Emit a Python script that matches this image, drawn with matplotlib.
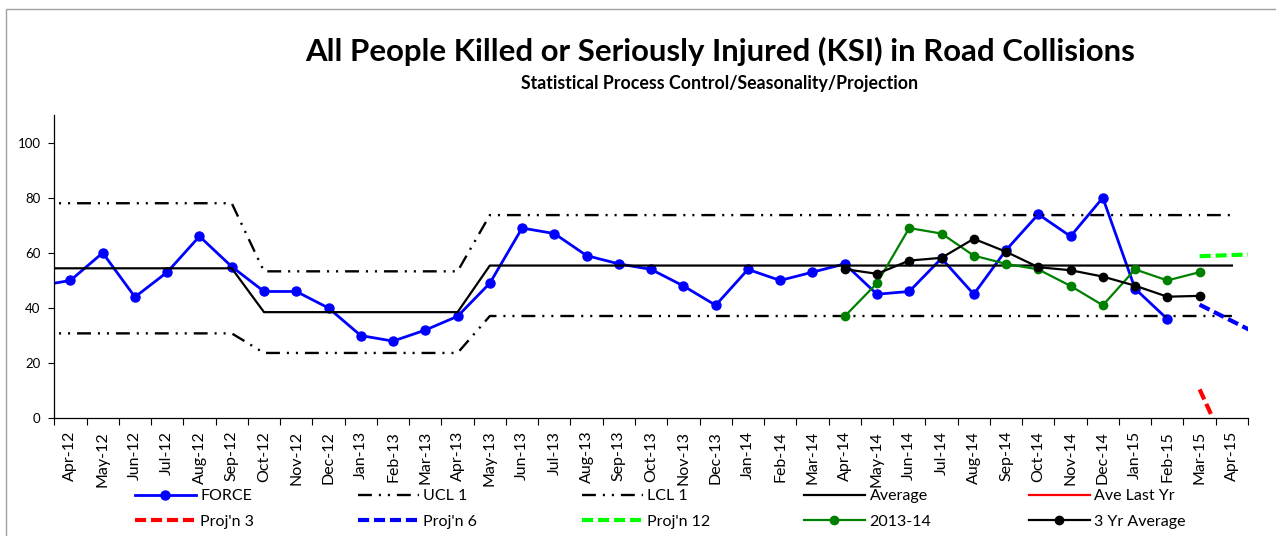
import numpy as np
import matplotlib.pyplot as plt
from matplotlib.patches import Rectangle

plt.rcParams['font.family'] = ['Lato', 'DejaVu Sans']
plt.rcParams['lines.scale_dashes'] = False

# axis categories
months = ['Apr-12', 'May-12', 'Jun-12', 'Jul-12', 'Aug-12', 'Sep-12', 'Oct-12', 'Nov-12',
          'Dec-12', 'Jan-13', 'Feb-13', 'Mar-13', 'Apr-13', 'May-13', 'Jun-13', 'Jul-13',
          'Aug-13', 'Sep-13', 'Oct-13', 'Nov-13', 'Dec-13', 'Jan-14', 'Feb-14', 'Mar-14',
          'Apr-14', 'May-14', 'Jun-14', 'Jul-14', 'Aug-14', 'Sep-14', 'Oct-14', 'Nov-14',
          'Dec-14', 'Jan-15', 'Feb-15', 'Mar-15', 'Apr-15']
# the series run one month either side of the axis range
all_months = ['Mar-12'] + months + ['May-15']

# monthly KSI count, Mar-12 .. Feb-15
force = [48, 50, 60, 44, 53, 66, 55, 46, 46, 40, 30, 28, 32, 37, 49, 69, 67, 59, 56, 54,
         48, 41, 54, 50, 53, 56, 45, 46, 58, 45, 61, 74, 66, 80, 47, 36]

# control limits per phase (Mar-12..Sep-12, Oct-12..Apr-13, May-13..Apr-15)
phase_last = ['Sep-12', 'Apr-13', 'Apr-15']
ucl_levels = [78.0, 53.3, 73.7]
avg_levels = [54.4, 38.5, 55.4]
lcl_levels = [30.8, 23.7, 37.1]

# last year's values, Apr-14 .. Mar-15
last_year = [37, 49, 69, 67, 59, 56, 54, 48, 41, 54, 50, 53]
# three year average, Apr-14 .. Mar-15
three_yr = [54.1, 52.4, 57.2, 58.2, 65.1, 60.4, 54.8, 53.7, 51.4, 48.1, 44.1, 44.4]

# projections, Mar-15 .. May-15
proj3 = [10.5, -15.0]
proj6 = [41.2, 35.3, 29.4]
proj12 = [58.8, 59.2, 59.6]


def xpos(first, n):
    return np.arange(n) + all_months.index(first) - 1


def stepped(levels):
    vals = []
    for m in all_months[:-1]:
        k = 0
        while all_months.index(m) > all_months.index(phase_last[k]):
            k += 1
        vals.append(levels[k])
    return vals


fig = plt.figure(figsize=(12.76, 5.36), dpi=100)
fig.add_artist(Rectangle((6 / 1276, -0.1), 1.2, 1 - 9 / 536 + 0.1, transform=fig.transFigure,
                         fill=False, edgecolor='#a0a0a0', linewidth=1.0))
ax = fig.add_axes([54.3 / 1276, (536 - 418.3) / 536, (1248 - 54.3) / 1276, (418.3 - 115) / 536])

dashdotdot = (0, (10, 5, 1.5, 5, 1.5, 5))
proj_dash = (0, (8, 3.5))

n_lim = len(all_months) - 1
h = {}
h['FORCE'], = ax.plot(xpos('Mar-12', len(force)), force, color='#0000ff', lw=2,
                      marker='o', markersize=6.5)
h['UCL 1'], = ax.plot(xpos('Mar-12', n_lim), stepped(ucl_levels), color='black', lw=1.7,
                      linestyle=dashdotdot)
h['LCL 1'], = ax.plot(xpos('Mar-12', n_lim), stepped(lcl_levels), color='black', lw=1.7,
                      linestyle=dashdotdot)
h['Average'], = ax.plot(xpos('Mar-12', n_lim), stepped(avg_levels), color='black', lw=1.6)
h['Ave Last Yr'], = ax.plot([], [], color='red', lw=1.6)
h["Proj'n 3"], = ax.plot(xpos('Mar-15', len(proj3)), proj3, color='red', lw=3,
                         linestyle=proj_dash)
h["Proj'n 6"], = ax.plot(xpos('Mar-15', len(proj6)), proj6, color='#0000ff', lw=3,
                         linestyle=proj_dash)
h["Proj'n 12"], = ax.plot(xpos('Mar-15', len(proj12)), proj12, color='#00ff00', lw=3,
                          linestyle=proj_dash)
h['2013-14'], = ax.plot(xpos('Apr-14', len(last_year)), last_year, color='#008000', lw=1.6,
                        marker='o', markersize=6)
h['3 Yr Average'], = ax.plot(xpos('Apr-14', len(three_yr)), three_yr, color='black', lw=1.6,
                             marker='o', markersize=6)

ax.set_xlim(-0.5, len(months) - 0.5)
ax.set_ylim(0, 110)
ax.set_yticks(range(0, 101, 20))
ax.set_xticks(range(len(months)))
ax.set_xticklabels(months, rotation=90)
ax.set_xticks(np.arange(-0.5, len(months)), minor=True)
ax.tick_params(axis='x', which='major', length=0, pad=9, labelsize=11.5)
ax.tick_params(axis='x', which='minor', length=5, width=0.8, direction='out')
ax.tick_params(axis='y', length=4, width=0.8, pad=6, labelsize=9.5)
for s in ['top', 'right']:
    ax.spines[s].set_visible(False)
for s in ['left', 'bottom']:
    ax.spines[s].set_linewidth(0.9)

fig.text(720 / 1276, 1 - 60.5 / 536, 'All People Killed or Seriously Injured (KSI) in Road Collisions',
         ha='center', va='baseline', fontsize=22.4, fontweight='bold')
fig.text(720 / 1276, 1 - 88.5 / 536, 'Statistical Process Control/Seasonality/Projection',
         ha='center', va='baseline', fontsize=12.8, fontweight='bold')

# legend laid out in two rows of five, like the spreadsheet
rows = [['FORCE', 'UCL 1', 'LCL 1', 'Average', 'Ave Last Yr'],
        ["Proj'n 3", "Proj'n 6", "Proj'n 12", '2013-14', '3 Yr Average']]
col_x = [135, 358, 582, 804, 1029]
row_y = [496, 522]
for r, names in enumerate(rows):
    for c, name in enumerate(names):
        fig.legend([h[name]], [name], loc='center left',
                   bbox_to_anchor=(col_x[c] / 1276, 1 - row_y[r] / 536),
                   frameon=False, fontsize=11.5, handlelength=3.8, handletextpad=0.3,
                   borderpad=0, borderaxespad=0, numpoints=1)

fig.savefig('out.png', dpi=100)
